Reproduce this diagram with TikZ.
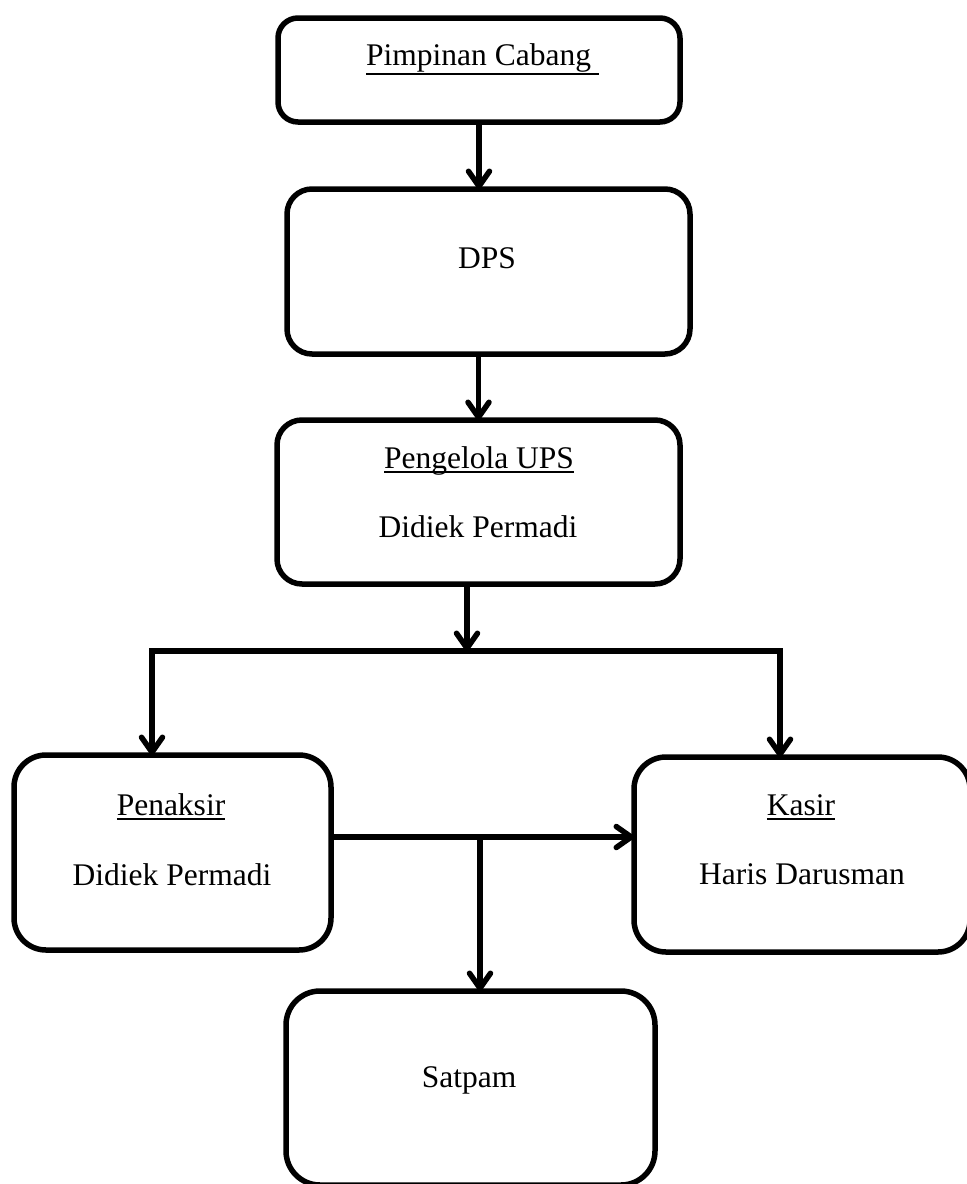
\documentclass[tikz,border=0pt]{standalone}
\usepackage{fontspec}
\setmainfont{Liberation Serif}
\usetikzlibrary{arrows.meta}
\newcommand\myul[2][5pt]{\setbox0\hbox{#2}\rlap{\rule[-#1]{\wd0}{1.8pt}}\box0}
\tikzset{
  box/.style={draw=black, line width=5.5pt, outer sep=0pt, inner sep=0pt, rounded corners=#1},
  box/.default=25pt,
  txt/.style={anchor=base, inner sep=0pt, font=\fontsize{31.5}{38}\selectfont},
  conn/.style={line width=5.5pt, line join=miter},
  barb/.tip={Straight Barb[length=15pt,width=21pt,line cap=round,line join=round]},
  arr/.style={conn, -barb},
  arr2/.style={conn, barb-barb}
}
\begin{document}
\begin{tikzpicture}[x=1pt,y=-1pt]
\useasboundingbox (0,0) rectangle (967,1184);
% boxes
\node[box=20pt, minimum width=402pt, minimum height=104pt] (b1) at (479,70) {};
\node[box, minimum width=403pt, minimum height=165pt] (b2) at (488.5,271.5) {};
\node[box, minimum width=403pt, minimum height=164pt] (b3) at (478.5,502) {};
\node[box=32pt, minimum width=317pt, minimum height=195pt] (pen) at (172.5,852.5) {};
\node[box=32pt, minimum width=336pt, minimum height=195pt] (kas) at (802,854.5) {};
\node[box=34pt, minimum width=369pt, minimum height=194pt] (sat) at (470.5,1088) {};
% texts
\node[txt, anchor=base west] (t1) at (366,65) {\myul[10pt]{Pimpinan Cabang\ }};
\node[txt] (t2) at (487,268) {DPS};
\node[txt] (t3a) at (479,468) {\myul{Pengelola UPS}};
\node[txt] (t3b) at (478,537) {Didiek Permadi};
\node[txt] (t4a) at (171,815) {\myul{Penaksir}};
\node[txt] (t4b) at (172,885) {Didiek Permadi};
\node[txt] (t5a) at (801,815) {\myul{Kasir}};
\node[txt] (t5b) at (802,884) {Haris Darusman};
\node[txt] (t6) at (469,1087) {Satpam};
% junction points
\coordinate (a1) at (479,0);
\coordinate (j) at (467,651);
\coordinate (jl) at (152,651);
\coordinate (jr) at (780,651);
\coordinate (m) at (480,837);
% connectors
\draw[arr] (a1 |- b1.south) -- (a1 |- b2.north);
\draw[arr] (b3.north |- b2.south) -- (b3.north);
\draw[arr] (j |- b3.south) -- (j);
\draw[arr2] (jl |- pen.north) -- (jl) -- (jr) -- (jr |- kas.north);
\draw[arr] (m -| pen.east) -- (m -| kas.west);
\draw[arr] (m) -- (m |- sat.north);
\end{tikzpicture}
\end{document}
